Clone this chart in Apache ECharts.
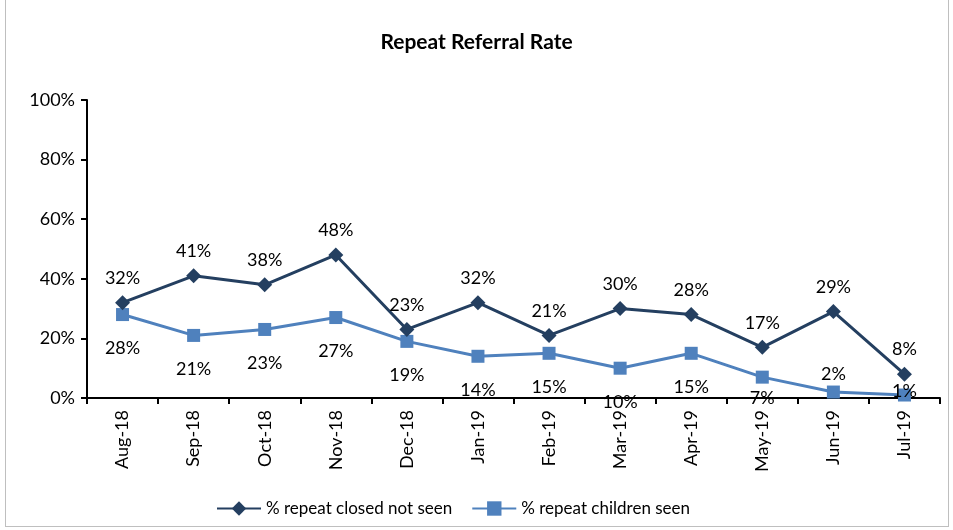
<!DOCTYPE html>
<html>
<head>
<meta charset="utf-8">
<script src="https://cdn.jsdelivr.net/npm/echarts@6/dist/echarts.min.js"></script>
<style>
  html, body { margin: 0; padding: 0; background: #fff; }
  #chart { width: 953px; height: 530px; }
  .frame { position: absolute; left: 5px; top: -2px; width: 942px; height: 527px; border: 1px solid #bfbfbf; pointer-events: none; }
</style>
</head>
<body>
<div id="chart"></div>
<div class="frame"></div>
<script>
// chart data
const months = ['Aug-18', 'Sep-18', 'Oct-18', 'Nov-18', 'Dec-18', 'Jan-19', 'Feb-19', 'Mar-19', 'Apr-19', 'May-19', 'Jun-19', 'Jul-19'];
const closedNotSeen = [32, 41, 38, 48, 23, 32, 21, 30, 28, 17, 29, 8];
const childrenSeen = [28, 21, 23, 27, 19, 14, 15, 10, 15, 7, 2, 1];
const yTicks = [0, 20, 40, 60, 80, 100];

const fontFamily = 'Lato, "Open Sans", sans-serif';
let myChart = echarts.init(document.getElementById('chart'));

// a few labels on the light line sit elsewhere in the original (crowded near the axis)
const childLabelTweaks = {
  'May-19': { distance: 6 },
  'Jun-19': { position: 'top', distance: 2 },
  'Jul-19': { position: 'top', distance: -12 }
};
const childData = childrenSeen.map((v, i) => {
  const tweak = childLabelTweaks[months[i]];
  return tweak ? { value: v, label: tweak } : v;
});

const option = {
  animation: false,
  title: {
    text: 'Repeat Referral Rate',
    left: 'center',
    top: 27,
    textStyle: { fontFamily: fontFamily, fontSize: 21, fontWeight: 'bold', color: '#000' }
  },
  legend: {
    bottom: 8,
    left: 211,
    itemWidth: 44,
    itemHeight: 18,
    itemGap: 19,
    textStyle: { fontFamily: fontFamily, fontSize: 17, color: '#000' },
    data: ['% repeat closed not seen', '% repeat children seen']
  },
  grid: { left: 87, right: 13, top: 100, bottom: 132 },
  xAxis: {
    type: 'category',
    data: months,
    boundaryGap: true,
    axisLine: { lineStyle: { color: '#000', width: 2 } },
    axisTick: { show: true, length: 6, lineStyle: { color: '#000', width: 2 } },
    axisLabel: { rotate: 90, margin: 12, color: '#000', fontFamily: fontFamily, fontSize: 18 }
  },
  yAxis: {
    type: 'value',
    min: yTicks[0],
    max: yTicks[yTicks.length - 1],
    interval: 20,
    splitLine: { show: false },
    axisLine: { show: true, lineStyle: { color: '#000', width: 2 } },
    axisTick: { show: true, length: 6, lineStyle: { color: '#000', width: 2 } },
    axisLabel: { formatter: '{value}%', margin: 12, color: '#000', fontFamily: fontFamily, fontSize: 18 }
  },
  series: [
    {
      name: '% repeat closed not seen',
      type: 'line',
      data: closedNotSeen,
      color: '#243F60',
      symbol: 'diamond',
      symbolSize: 15,
      lineStyle: { width: 3, color: '#243F60' },
      itemStyle: { color: '#243F60' },
      label: {
        show: true, position: 'top', distance: 8, formatter: '{c}%',
        color: '#000', fontFamily: fontFamily, fontSize: 18
      },
      z: 3
    },
    {
      name: '% repeat children seen',
      type: 'line',
      data: childData,
      color: '#4F81BD',
      symbol: 'rect',
      symbolSize: 13,
      lineStyle: { width: 3, color: '#4F81BD' },
      itemStyle: { color: '#4F81BD' },
      label: {
        show: true, position: 'bottom', distance: 18, formatter: '{c}%',
        color: '#000', fontFamily: fontFamily, fontSize: 18
      },
      z: 2
    }
  ]
};

option && myChart.setOption(option);
</script>
</body>
</html>
